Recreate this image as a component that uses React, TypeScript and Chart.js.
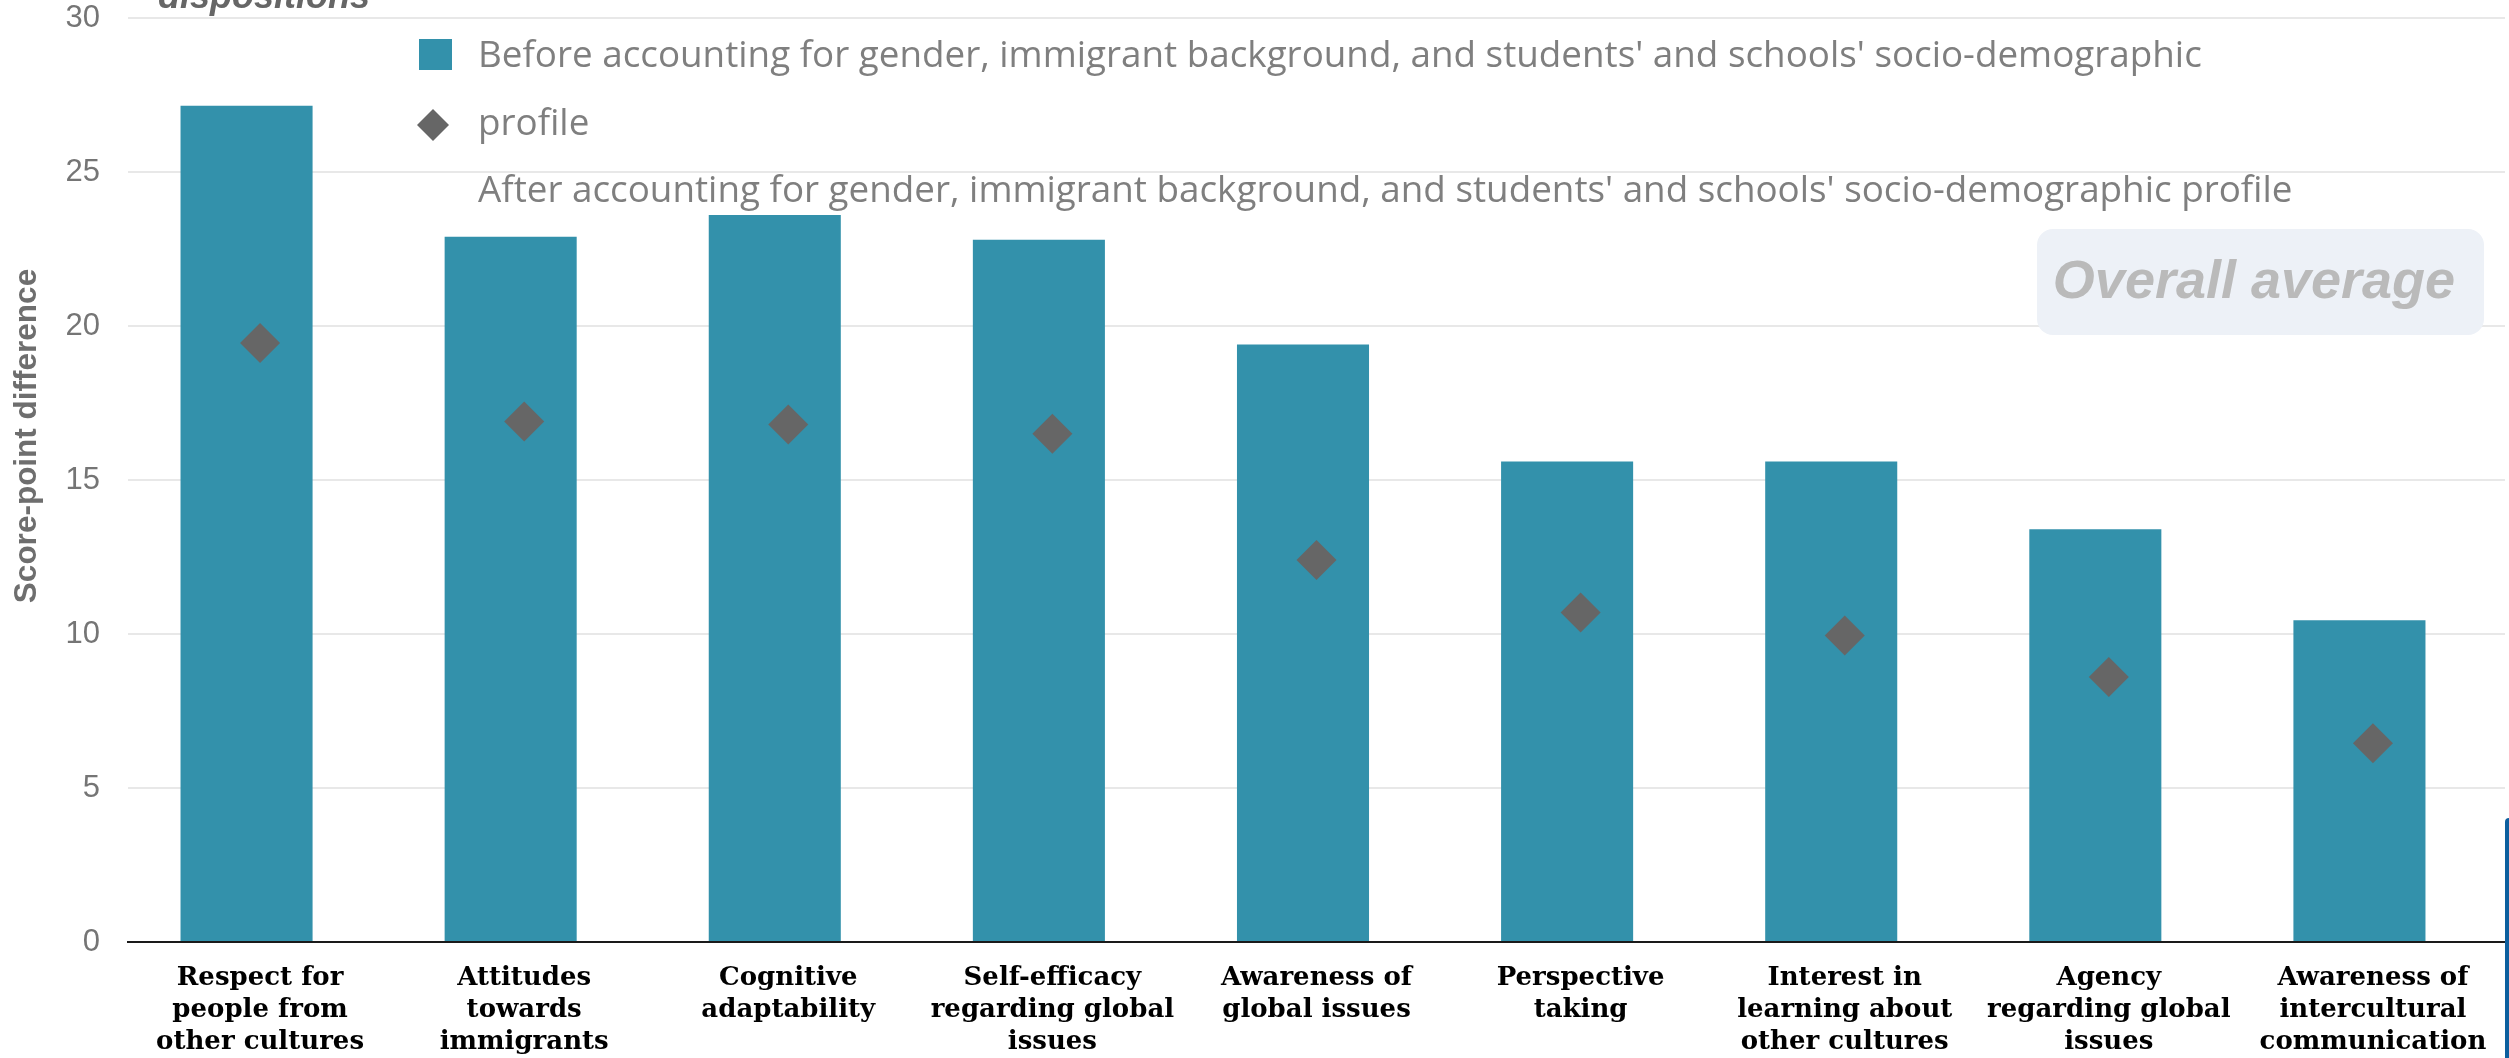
import React, { useEffect, useRef } from "react";
import { Chart, registerables } from "chart.js";

Chart.register(...registerables);

// ---------- data ----------
const categories: string[][] = [
  ["Respect for", "people from", "other cultures"],
  ["Attitudes", "towards", "immigrants"],
  ["Cognitive", "adaptability"],
  ["Self-efficacy", "regarding global", "issues"],
  ["Awareness of", "global issues"],
  ["Perspective", "taking"],
  ["Interest in", "learning about", "other cultures"],
  ["Agency", "regarding global", "issues"],
  ["Awareness of", "intercultural", "communication"],
];
const beforeValues = [27.15, 22.9, 23.6, 22.8, 19.4, 15.6, 15.6, 13.4, 10.45];
const afterValues = [19.45, 16.9, 16.8, 16.5, 12.4, 10.7, 9.95, 8.6, 6.45];
const yTicks = [0, 5, 10, 15, 20, 25, 30];
const seriesLabels = [
  "Before accounting for gender, immigrant background, and students' and schools' socio-demographic profile",
  "After accounting for gender, immigrant background, and students' and schools' socio-demographic profile",
];
const yAxisTitle = "Score-point difference";
const titleFragment = "dispositions";
const badgeText = "Overall average";

// ---------- styles ----------
const BAR_COLOR = "#3391ab";
const DIAMOND_COLOR = "#666666";
const W = 2509;
const H = 1058;

const overlayPlugin = {
  id: "overlay",
  afterDraw(chart: any) {
    const ctx: CanvasRenderingContext2D = chart.ctx;
    ctx.save();

    // cut-off title fragment
    ctx.fillStyle = "#666666";
    ctx.font = 'italic bold 36px "Liberation Sans"';
    ctx.textAlign = "left";
    ctx.textBaseline = "alphabetic";
    ctx.fillText(titleFragment, 158, 8);

    // y-axis title
    ctx.save();
    ctx.translate(27, 436);
    ctx.rotate(-Math.PI / 2);
    ctx.font = 'bold 31.5px "Liberation Sans"';
    ctx.fillStyle = "#6e6e6e";
    ctx.textAlign = "center";
    ctx.textBaseline = "middle";
    ctx.fillText(yAxisTitle, 0, 0);
    ctx.restore();

    // legend (first label wraps its last word onto the second line)
    const words = seriesLabels[0].split(" ");
    const last = words.pop() as string;
    const line1 = words.join(" ");
    ctx.font = '36.8px "Open Sans"';
    ctx.fillStyle = "#7f7f7f";
    ctx.textAlign = "left";
    ctx.textBaseline = "alphabetic";
    ctx.fillText(line1, 478, 67);
    ctx.fillText(last, 478, 135);
    ctx.fillText(seriesLabels[1], 478, 202);
    // square marker
    ctx.fillStyle = BAR_COLOR;
    ctx.fillRect(419, 39, 33, 31);
    // diamond marker
    ctx.fillStyle = DIAMOND_COLOR;
    ctx.beginPath();
    ctx.moveTo(433, 109);
    ctx.lineTo(449, 125);
    ctx.lineTo(433, 141);
    ctx.lineTo(417, 125);
    ctx.closePath();
    ctx.fill();

    // overall average badge
    ctx.fillStyle = "#edf1f7";
    ctx.beginPath();
    (ctx as any).roundRect(2037, 229, 447, 106, 16);
    ctx.fill();
    ctx.font = 'italic bold 54px "Liberation Sans"';
    ctx.fillStyle = "#bababa";
    ctx.textAlign = "center";
    ctx.textBaseline = "middle";
    ctx.fillText(badgeText, 2254, 283);

    // blue edge strip at right
    ctx.fillStyle = "#0d5f9e";
    ctx.beginPath();
    (ctx as any).roundRect(2505, 818, 8, 260, 4);
    ctx.fill();

    ctx.restore();
  },
};

export default function App() {
  const ref = useRef<HTMLCanvasElement>(null);

  useEffect(() => {
    const chart = new Chart(ref.current as HTMLCanvasElement, {
      type: "bar",
      data: {
        labels: categories,
        datasets: [
          {
            type: "bar",
            label: seriesLabels[0],
            data: beforeValues,
            backgroundColor: BAR_COLOR,
            borderWidth: 0,
            // bars sit slightly left of the category centre (grouped with an empty slot)
            categoryPercentage: 0.2045,
            barPercentage: 4.89,
            order: 2,
          } as any,
          {
            type: "bar",
            label: "",
            data: beforeValues.map(() => null),
            backgroundColor: "rgba(0,0,0,0)",
            borderWidth: 0,
            categoryPercentage: 0.2045,
            barPercentage: 4.89,
            order: 3,
          } as any,
          {
            type: "line",
            label: seriesLabels[1],
            data: afterValues,
            showLine: false,
            pointStyle: "rectRot",
            pointRadius: 20,
            pointHoverRadius: 20,
            pointBackgroundColor: DIAMOND_COLOR,
            pointBorderWidth: 0,
            borderWidth: 0,
            order: 1,
          } as any,
        ],
      },
      options: {
        responsive: false,
        animation: false,
        devicePixelRatio: 1,
        layout: { autoPadding: false, padding: { top: 18, right: 4, bottom: 0, left: 0 } },
        plugins: {
          legend: { display: false },
          tooltip: { enabled: false },
          title: { display: false },
        },
        scales: {
          x: {
            type: "category",
            position: "bottom",
            offset: true,
            grid: { display: false, drawTicks: false },
            border: { display: true, color: "#1a1a1a", width: 2 },
            ticks: {
              autoSkip: false,
              maxRotation: 0,
              minRotation: 0,
              padding: 20,
              color: "#000000",
              font: { family: "DejaVu Serif", weight: "bold", size: 26, lineHeight: 32 / 26 },
            },
            afterFit: (s: any) => {
              s.height = 116;
              s.paddingLeft = 0;
              s.paddingRight = 0;
            },
          },
          y: {
            type: "linear",
            position: "left",
            min: 0,
            max: 30,
            grid: { color: "#e8e8e8", lineWidth: 2, drawTicks: false },
            border: { display: false },
            ticks: {
              padding: 28,
              color: "#757575",
              font: { family: "Liberation Sans", size: 31, lineHeight: 1 },
            },
            afterBuildTicks: (s: any) => {
              s.ticks = yTicks.map((v) => ({ value: v }));
            },
            afterFit: (s: any) => {
              s.width = 128;
              s.paddingTop = 0;
              s.paddingBottom = 0;
            },
          },
        } as any,
      },
      plugins: [overlayPlugin],
    });
    return () => chart.destroy();
  }, []);

  return (
    <div
      style={{
        position: "fixed",
        left: 0,
        top: 0,
        width: W,
        height: H,
        background: "#ffffff",
        overflow: "hidden",
      }}
    >
      <canvas ref={ref} width={W} height={H} style={{ display: "block" }} />
    </div>
  );
}
